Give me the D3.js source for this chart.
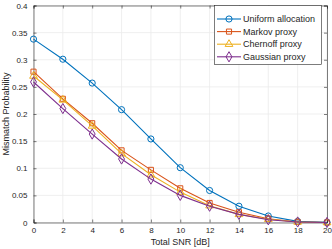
<!DOCTYPE html>
<html>
<head>
<meta charset="UTF-8">
<script src="https://d3js.org/d3.v7.min.js"></script>
<style>
  body { margin: 0; background: #fff; }
  svg text { font-family: "Liberation Sans", Arial, sans-serif; fill: #262626; }
</style>
</head>
<body>
<svg id="chart" width="332" height="249"></svg>
<script>
const snr = [0, 2, 4, 6, 8, 10, 12, 14, 16, 18, 20];
const uniform  = [0.338, 0.301, 0.257, 0.208, 0.154, 0.101, 0.059, 0.030, 0.012, 0.002, 0.0005];
const markov   = [0.278, 0.228, 0.183, 0.133, 0.097, 0.063, 0.036, 0.019, 0.007, 0.001, 0.0];
const chernoff = [0.270, 0.226, 0.178, 0.127, 0.088, 0.056, 0.031, 0.015, 0.006, 0.001, 0.0];
const gaussian = [0.259, 0.210, 0.163, 0.117, 0.080, 0.050, 0.030, 0.015, 0.005, 0.001, 0.0];
const xTicks = [0, 2, 4, 6, 8, 10, 12, 14, 16, 18, 20];
const yTicks = [0, 0.05, 0.1, 0.15, 0.2, 0.25, 0.3, 0.35, 0.4];

const series = [
  { name: "Uniform allocation", values: uniform,  color: "#0072BD", marker: "circle" },
  { name: "Markov proxy",       values: markov,   color: "#D95319", marker: "square" },
  { name: "Chernoff proxy",     values: chernoff, color: "#EDB120", marker: "triangle" },
  { name: "Gaussian proxy",     values: gaussian, color: "#7E2F8E", marker: "diamond" }
];

const svg = d3.select("#chart");
const pL = 33.5, pR = 327, pT = 5.5, pB = 222.5;

const x = d3.scaleLinear().domain([0, 20]).range([pL, pR]);
const y = d3.scaleLinear().domain([0, 0.4]).range([pB, pT]);

// grid
svg.append("g").selectAll("line").data(xTicks).enter().append("line")
  .attr("x1", d => x(d)).attr("x2", d => x(d))
  .attr("y1", pT).attr("y2", pB)
  .attr("stroke", "#ebebeb").attr("stroke-width", 0.8);
svg.append("g").selectAll("line").data(yTicks).enter().append("line")
  .attr("y1", d => y(d)).attr("y2", d => y(d))
  .attr("x1", pL).attr("x2", pR)
  .attr("stroke", "#ebebeb").attr("stroke-width", 0.8);

// axes
const xAxis = svg.append("g").attr("transform", `translate(0,${pB})`)
  .call(d3.axisBottom(x).tickValues(xTicks).tickSize(-3).tickPadding(5).tickFormat(d3.format("d")));
const yAxis = svg.append("g").attr("transform", `translate(${pL},0)`)
  .call(d3.axisLeft(y).tickValues(yTicks).tickSize(-3).tickPadding(6).tickFormat(d => d === 0 ? "0" : String(+d.toFixed(2))));
const xAxisTop = svg.append("g").attr("transform", `translate(0,${pT})`)
  .call(d3.axisTop(x).tickValues(xTicks).tickSize(-3).tickFormat(""));
const yAxisRight = svg.append("g").attr("transform", `translate(${pR},0)`)
  .call(d3.axisRight(y).tickValues(yTicks).tickSize(-3).tickFormat(""));

[xAxis, yAxis, xAxisTop, yAxisRight].forEach(g => {
  g.selectAll("path, line").attr("stroke", "#262626").attr("stroke-width", 0.6);
  g.selectAll("text").style("font-size", "8px").attr("fill", "#262626");
});

// lines and markers
const line = d3.line().x((d, i) => x(snr[i])).y(d => y(d));
const symbolOf = {
  circle: d3.symbol().type(d3.symbolCircle).size(30),
  square: d3.symbol().type(d3.symbolSquare).size(26),
  triangle: d3.symbol().type(d3.symbolTriangle).size(26),
  diamond: d3.symbol().type(d3.symbolDiamond).size(30)
};

series.forEach(s => {
  svg.append("path").datum(s.values)
    .attr("d", line).attr("fill", "none")
    .attr("stroke", s.color).attr("stroke-width", 1.1);
  svg.append("g").selectAll("path").data(s.values).enter().append("path")
    .attr("d", symbolOf[s.marker]())
    .attr("transform", (d, i) => `translate(${x(snr[i])},${y(d)})`)
    .attr("fill", "none").attr("stroke", s.color).attr("stroke-width", 1);
});

// labels
svg.append("text").attr("x", (pL + pR) / 2).attr("y", 245)
  .attr("text-anchor", "middle").style("font-size", "9px").text("Total SNR [dB]");
svg.append("text").attr("transform", `translate(9,${(pT + pB) / 2}) rotate(-90)`)
  .attr("text-anchor", "middle").style("font-size", "9px").text("Mismatch Probability");

// legend
const lg = svg.append("g");
lg.append("rect").attr("x", 214.5).attr("y", 5.5).attr("width", 107).attr("height", 59)
  .attr("fill", "#fff").attr("stroke", "#262626").attr("stroke-width", 0.6);
series.forEach((s, i) => {
  const yy = 19 + i * 12.6;
  lg.append("line").attr("x1", 217).attr("x2", 241).attr("y1", yy).attr("y2", yy)
    .attr("stroke", s.color).attr("stroke-width", 1.1);
  lg.append("path").attr("d", symbolOf[s.marker]())
    .attr("transform", `translate(229,${yy})`)
    .attr("fill", "none").attr("stroke", s.color).attr("stroke-width", 1);
  lg.append("text").attr("x", 243).attr("y", yy).attr("dy", "0.35em")
    .style("font-size", "9px").text(s.name);
});
</script>
</body>
</html>
